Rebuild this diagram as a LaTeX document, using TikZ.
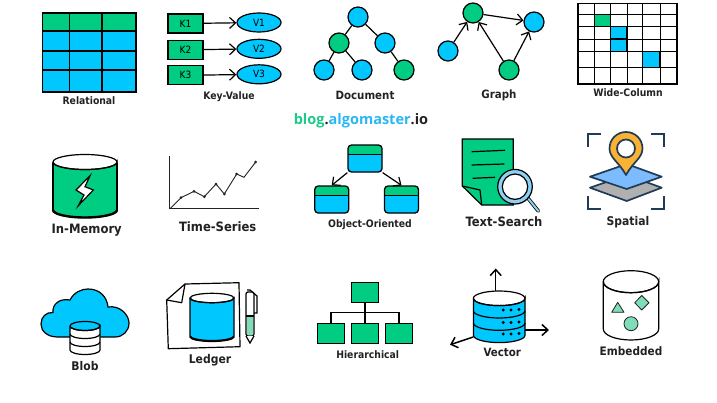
\documentclass[tikz,border=0pt]{standalone}
\usepackage{fontspec}
\setmainfont{DejaVu Sans Condensed}
\newfontfamily\sitefont{Open Sans}
\usetikzlibrary{arrows.meta,shapes.geometric}
\definecolor{dbgreen}{HTML}{00CC82}
\definecolor{dbblue}{HTML}{00C8FF}
\definecolor{softgreen}{HTML}{7FDDB8}
\definecolor{pinamber}{HTML}{F9B233}
\definecolor{mapnavy}{HTML}{1F3B57}
\definecolor{mapblue}{HTML}{7DBBFF}
\definecolor{mapgray}{HTML}{B0B0B0}
\definecolor{lenscyan}{HTML}{8FD0F5}
\definecolor{inkgray}{HTML}{222222}
\definecolor{sitegreen}{HTML}{1FC98A}
\definecolor{siteblue}{HTML}{29B6F6}
\tikzset{
  ink/.style={draw=black,line width=1.2pt},
  lbl/.style={text=inkgray,font=\bfseries\fontsize{#1}{#1}\selectfont,inner sep=0pt},
  barb/.style={-{Straight Barb[length=6pt,width=11pt]},line width=1.2pt},
  keybox/.style={ink,fill=dbgreen,minimum width=35pt,minimum height=19pt,inner sep=0pt,font=\fontsize{10}{10}\selectfont},
  valnode/.style={ink,ellipse,fill=dbblue,minimum width=44pt,minimum height=19pt,inner sep=0pt,font=\fontsize{10}{10}\selectfont},
  dotblue/.style={ink,circle,fill=dbblue,minimum size=20pt,inner sep=0pt},
  dotgreen/.style={ink,circle,fill=dbgreen,minimum size=20pt,inner sep=0pt},
  oobox/.style={draw=black,line width=1.3pt,fill=dbblue,rounded corners=3.5pt,minimum width=34pt,minimum height=27pt,inner sep=0pt,
    path picture={\fill[dbgreen] (path picture bounding box.north west) rectangle ([yshift=-9.5pt]path picture bounding box.north east);
      \draw[line width=.8pt] ([yshift=-9.5pt]path picture bounding box.north west) -- ([yshift=-9.5pt]path picture bounding box.north east);}},
  hbox/.style={ink,fill=dbgreen,minimum width=27pt,minimum height=20pt,inner sep=0pt},
}
\newcommand{\drum}[6]{%
  \begin{scope}[shift={(#1,#2)}]
  \filldraw[ink,fill=#6] (-#3,0) -- (-#3,#5) arc[start angle=180,end angle=0,x radius=#3,y radius=#4] -- (#3,0) arc[start angle=0,end angle=180,x radius=#3,y radius=#4];
  \draw[ink] (0,0) ellipse [x radius=#3,y radius=#4];
  \end{scope}}
\begin{document}
\begin{tikzpicture}[x=1pt,y=-1pt]
\useasboundingbox (0,0) rectangle (717,402);
% top row
\fill[dbblue] (42.5,31) rectangle (136,92);
\fill[dbgreen] (42.5,13) rectangle (136,31);
\draw[ink] (42.5,13) rectangle (136,92);
\foreach \x in {69.5,102}{\draw[ink] (\x,13) -- (\x,92);}
\foreach \y in {31,51,70}{\draw[ink] (42.5,\y) -- (136,\y);}
\node[lbl=10.3] (relational) at (89,101) {Relational};
\foreach \n/\y in {1/23.5,2/49.8,3/75.3}{
  \node[keybox] (k\n) at (185.5,\y) {K\n};
  \node[valnode] (v\n) at (259,\y-1) {V\n};
  \draw[barb] (k\n) -- (v\n);
}
\node[lbl=10.3] (keyvalue) at (229,96.5) {Key-Value};
\node[dotblue] (d1) at (358,17) {};
\node[dotgreen] (d2) at (339,43) {};
\node[dotblue] (d3) at (385,43) {};
\node[dotblue] (d4) at (324,70) {};
\node[dotblue] (d5) at (362,70) {};
\node[dotgreen] (d6) at (404,70) {};
\draw[ink] (d1) -- (d2) (d1) -- (d3) (d2) -- (d4) (d2) -- (d5) (d3) -- (d6);
\node[lbl=11.4] (document) at (365,95) {Document};
\node[dotgreen] (g1) at (473,13) {};
\node[dotblue] (g2) at (534,22) {};
\node[dotblue] (g3) at (448,51) {};
\node[dotgreen] (g4) at (509,70) {};
\draw[barb] (g3) -- (g1);
\draw[barb] (g4) -- (g1);
\draw[barb] (g4) -- (g2);
\draw[barb] (g1) -- (g2);
\node[lbl=11.4] (graph) at (499,95) {Graph};
\fill[dbgreen] (594.5,14) rectangle (610.5,26.7);
\fill[dbblue] (610.5,26.7) rectangle (627,51.7);
\fill[dbblue] (642.7,51.7) rectangle (660,67.7);
\draw[ink] (578,3.5) rectangle (677,84);
\foreach \x in {594.3,610.7,627,642.7,660}{\draw[line width=1pt] (\x,3.5) -- (\x,84);}
\foreach \y in {14,26.7,39,51.7,67.7}{\draw[line width=1pt] (578,\y) -- (677,\y);}
\draw[line width=1.5pt] (610.7,26.7) rectangle (627,51.7) (610.7,39) -- (627,39) (642.7,51.7) rectangle (660,67.7);
\node[lbl=10.3] (widecolumn) at (628,93) {Wide-Column};
\node[font=\sitefont\bfseries\fontsize{14.5}{14.5}\selectfont,inner sep=0pt] (site) at (361,120.5) {\textcolor{sitegreen}{blog}\textcolor{inkgray}{.}\textcolor{siteblue}{algomaster}\textcolor{inkgray}{.io}};
% middle row
\drum{85}{162}{32}{7.5}{48}{dbgreen}
\draw[line width=1.6pt] (53,163) -- (53,210) (117,210) -- (117,163);
\draw[line width=2.4pt] (53,210) arc[start angle=180,end angle=0,x radius=32,y radius=7.5];
\draw[ink,fill=white] (90,175.7) -- (76,190) -- (84,195) -- (78.3,205.7) -- (93.3,190) -- (85,186.7) -- cycle;
\node[lbl=12.9] (inmemory) at (86.7,230) {In-Memory};
\draw[line width=1pt,draw=inkgray] (169.7,156) -- (169.7,208.7) -- (259,208.7);
\draw[line width=.9pt,draw=inkgray] (170,208.7) -- (181,197.7) -- (194,191.3) -- (204.3,196.7) -- (216,184) -- (224.3,194) -- (236.7,174) -- (244,177.3) -- (255.7,162);
\foreach \p in {(181,197.7),(194,191.3),(204.3,196.7),(216,184),(224.3,194),(236.7,174),(255.7,162)}{\fill[inkgray] \p circle (1.5);}
\node[lbl=12.9] (timeseries) at (217.7,227) {Time-Series};
\node[oobox] (oo1) at (365,158.5) {};
\node[oobox] (oo2) at (331.7,199.5) {};
\node[oobox] (oo3) at (401.5,199.5) {};
\draw[barb] (oo1.south west) -- (oo2.north);
\draw[barb] (oo1.south east) -- (oo3.north);
\node[lbl=10.3] (objectoriented) at (370,225) {Object-Oriented};
\filldraw[ink,fill=dbgreen] (462.3,139) -- (513.3,139) -- (513.3,205) -- (481.7,205) -- (462.3,186) -- cycle;
\draw[ink] (462.3,186) -- (480,190) -- (481.7,205);
\draw[ink] (471.7,151.7) -- (505,150.3) (471.7,165) -- (504.3,164) (472.7,178.3) -- (495,177.3);
\draw[line width=3.6pt,line cap=round,draw=black] (527,197) -- (538.3,211);
\draw[line width=2pt,line cap=round,draw=lenscyan] (527,197) -- (538.3,211);
\filldraw[ink,fill=lenscyan] (515,186.7) circle (17.3);
\filldraw[ink,fill=white] (515,186.7) circle (12.7);
\node[lbl=12.9] (textsearch) at (504,221.7) {Text-Search};
\draw[line width=1.7pt,draw=mapnavy] (588.3,147) -- (588.3,134.3) -- (601,134.3) (651,134.3) -- (663.7,134.3) -- (663.7,147) (588.3,196) -- (588.3,209) -- (601,209) (651,209) -- (663.7,209) -- (663.7,196);
\filldraw[line width=1.7pt,draw=mapnavy,fill=mapgray,line join=round] (590,187.7) -- (626.7,175) -- (661.7,187.7) -- (626.7,201) -- cycle;
\filldraw[line width=1.7pt,draw=mapnavy,fill=mapblue,line join=round] (590,176.7) -- (626.7,164) -- (661.7,176.7) -- (626.7,189) -- cycle;
\filldraw[line width=1.7pt,draw=mapnavy,fill=pinamber,line join=round] (626,175) .. controls (619,162) and (609.5,158) .. (609.5,148.5) .. controls (609.5,139) and (617,132) .. (626,132) .. controls (635,132) and (642.5,139) .. (642.5,148.5) .. controls (642.5,158) and (633,162) .. (626,175) -- cycle;
\filldraw[line width=1.7pt,draw=mapnavy,fill=white] (626,148.5) circle (9);
\node[lbl=12] (spatial) at (628,222) {Spatial};
% bottom row
\filldraw[ink,fill=dbblue] (58,337) .. controls (47,337) and (41,331) .. (41,324) .. controls (41,317) and (46,312) .. (53,312.5) .. controls (52,304) and (60,298) .. (70,300) .. controls (74,292) and (82,289) .. (88,289) .. controls (100,289) and (107,297) .. (108,307) .. controls (120,305) and (129,315) .. (129,323) .. controls (129,331) and (123,337) .. (115,337) -- cycle;
\filldraw[ink,fill=white] (70,326) -- (70,350) arc[start angle=180,end angle=0,x radius=15,y radius=4.5] -- (100,326) arc[start angle=0,end angle=180,x radius=15,y radius=4.5];
\draw[ink] (85,326) ellipse [x radius=15,y radius=4.5];
\draw[ink] (70,334) arc[start angle=180,end angle=0,x radius=15,y radius=4.5];
\draw[ink] (70,342) arc[start angle=180,end angle=0,x radius=15,y radius=4.5];
\node[lbl=12] (blob) at (85,365.7) {Blob};
\draw[ink,line join=round] (185,284) -- (239,282.7) -- (240,346.7) -- (168.3,348.7) -- (166.7,300) -- cycle;
\draw[ink,line join=round] (185,284) -- (181.7,302.7) -- (166.7,300);
\drum{212}{298}{22}{4.7}{38.3}{dbblue}
\draw[line width=2.2pt] (190,336.3) arc[start angle=180,end angle=0,x radius=22,y radius=4.7];
\node[lbl=12] (ledger) at (210,360) {Ledger};
\filldraw[ink,fill=white,rounded corners=2pt] (246,292) -- (254,292) -- (254,336) -- (246,336) -- cycle;
\fill[softgreen] (246.6,316) rectangle (253.4,335.4);
\draw[ink] (246,316) -- (254,316);
\filldraw[ink,fill=white] (246,336) -- (250,343) -- (254,336);
\draw[ink] (247,290) -- (250,290) -- (257,296) -- (257,313) -- (254,313);
\node[lbl=10.3] (hierarchical) at (367.7,354.3) {Hierarchical};
\node[hbox] (hroot) at (365,292.3) {};
\node[hbox] (hleft) at (331,333.2) {};
\node[hbox] (hmid) at (365,333.2) {};
\node[hbox] (hright) at (399,333.2) {};
\coordinate (hbus) at (365,312.3);
\draw[ink] (hroot) -- (hmid);
\draw[ink] (hleft.north) |- (hbus) -| (hright.north);
\coordinate (vtop) at (495.7,290.5); \coordinate (vtip) at (495.7,268.5);
\coordinate (vright) at (525,330); \coordinate (vrtip) at (549,330);
\coordinate (vleft) at (473.3,337); \coordinate (vltip) at (450,344.7);
\draw[barb,line width=1.5pt] (vtop) -- (vtip);
\draw[barb,line width=1.5pt] (vright) -- (vrtip);
\draw[barb,line width=1.5pt] (vleft) -- (vltip);
\drum{499.2}{298.3}{25.8}{7.3}{37}{dbblue}
\foreach \y in {310.7,323}{\draw[ink] (473.4,\y) arc[start angle=180,end angle=0,x radius=25.8,y radius=7.3];}
\foreach \y/\z in {310/309.5,322.5/322,334/333.5}{
  \fill (503.3,\y) circle (1.6);
  \fill (511,\y) circle (1.6);
  \fill (519,\z) circle (1.6);
}
\node[lbl=11.4] (vector) at (502.3,352.7) {Vector};
\drum{631}{281.7}{27.7}{11}{47.3}{white}
\filldraw[line width=.8pt,draw=inkgray,fill=softgreen,line join=round] (617.7,302.3) -- (624,312.3) -- (611.7,312.3) -- cycle;
\filldraw[line width=.8pt,draw=inkgray,fill=softgreen,line join=round] (641.7,295.5) -- (649,302.7) -- (641.7,310) -- (634.7,302.7) -- cycle;
\filldraw[line width=.8pt,draw=inkgray,fill=softgreen] (631,323.7) circle (7);
\node[lbl=11.7] (embedded) at (631,350.7) {Embedded};
\end{tikzpicture}
\end{document}
